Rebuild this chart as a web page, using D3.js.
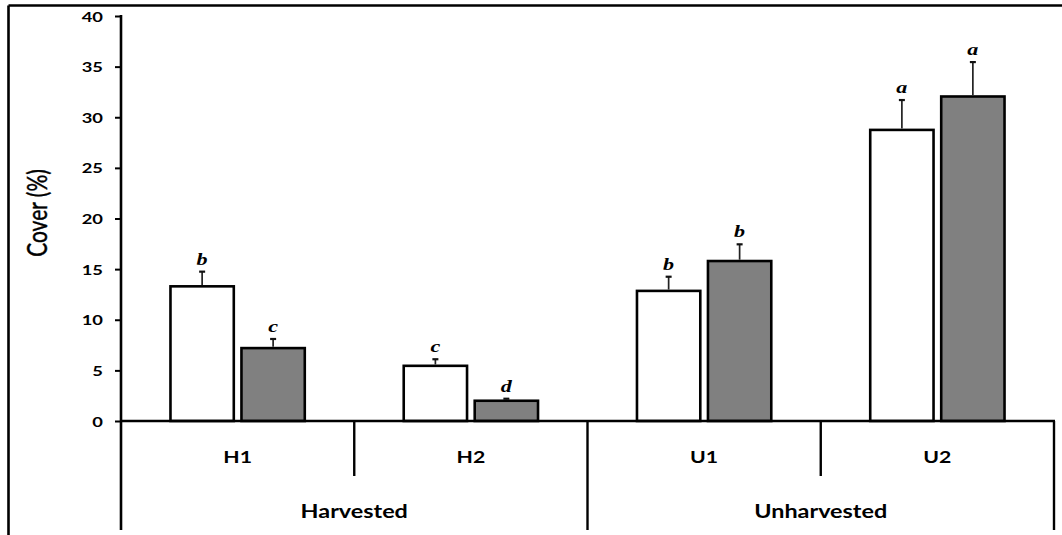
<!DOCTYPE html>
<html>
<head>
<meta charset="utf-8">
<script src="https://cdn.jsdelivr.net/npm/d3@7/dist/d3.min.js"></script>
<style>
  html, body { margin: 0; padding: 0; background: #fff; }
  svg { display: block; }
</style>
</head>
<body>
<svg id="chart" width="1062" height="535"></svg>
<script>
// Plant cover by site, two treatments per site, grouped by harvest status
const categories = ["H1", "H2", "U1", "U2"];
const groupNames = ["Harvested", "Harvested", "Unharvested", "Unharvested"];
const seriesKeys = ["first", "second"];
const seriesFill = ["#ffffff", "#808080"];

const firstValues = [13.3, 5.45, 12.85, 28.75];
const firstErrors = [1.45, 0.65, 1.4, 2.95];
const firstLetters = ["b", "c", "b", "a"];

const secondValues = [7.2, 2.0, 15.8, 32.05];
const secondErrors = [0.9, 0.2, 1.65, 3.4];
const secondLetters = ["c", "d", "b", "a"];

const yTicks = [0, 5, 10, 15, 20, 25, 30, 35, 40];
const yTitle = "Cover (%)";

const svg = d3.select("#chart");

// frame lines
const frame = svg.append("g").attr("stroke", "#000").attr("stroke-width", 2.6);
frame.append("line").attr("x1", 8.5).attr("x2", 1062).attr("y1", 5.5).attr("y2", 5.5);
frame.append("line").attr("x1", 8.5).attr("x2", 8.5).attr("y1", 5.5).attr("y2", 535);

const plotLeft = 121, plotRight = 1054, plotTop = 16, plotBase = 421;
const y = d3.scaleLinear().domain([0, 40]).range([plotBase, plotTop]);
const x = d3.scaleBand().domain(categories).range([plotLeft, plotRight]).padding(0);
const xs = d3.scaleBand().domain(seriesKeys).range([0, x.bandwidth()])
  .paddingInner(0.108).paddingOuter(0.697);

const rows = categories.map((c, i) => ({
  cat: c,
  group: groupNames[i],
  bars: [
    { key: seriesKeys[0], value: firstValues[i], err: firstErrors[i], letter: firstLetters[i], fill: seriesFill[0] },
    { key: seriesKeys[1], value: secondValues[i], err: secondErrors[i], letter: secondLetters[i], fill: seriesFill[1] }
  ]
}));

// y axis
const yAxis = d3.axisLeft(y).tickValues(yTicks).tickSize(6).tickPadding(0);
const gy = svg.append("g").attr("transform", `translate(${plotLeft},0)`).call(yAxis);
gy.select(".domain").remove();
gy.selectAll(".tick line").attr("stroke", "#000").attr("stroke-width", 2);
gy.selectAll(".tick text")
  .attr("x", 0).attr("dy", null)
  .attr("transform", "translate(-18,5) scale(1.36,1)")
  .attr("text-anchor", "end")
  .attr("font-family", "Lato, 'Open Sans', sans-serif")
  .attr("font-weight", "bold")
  .attr("font-size", 13.5)
  .attr("fill", "#000");
svg.append("line").attr("x1", plotLeft).attr("x2", plotLeft).attr("y1", y(40) - 1).attr("y2", 530)
  .attr("stroke", "#000").attr("stroke-width", 2.6);

// y title
svg.append("text")
  .attr("transform", "translate(47,213) scale(1.25,1) rotate(-90)")
  .attr("text-anchor", "middle")
  .attr("font-family", "Lato, 'Open Sans', sans-serif")
  .attr("font-size", 21)
  .attr("stroke", "#000")
  .attr("stroke-width", 0.35)
  .attr("fill", "#000")
  .text(yTitle);

// bars
const cat = svg.append("g").selectAll("g").data(rows).join("g")
  .attr("transform", d => `translate(${x(d.cat)},0)`);

cat.selectAll("rect").data(d => d.bars).join("rect")
  .attr("x", b => xs(b.key))
  .attr("width", xs.bandwidth())
  .attr("y", b => y(b.value))
  .attr("height", b => y(0) - y(b.value))
  .attr("fill", b => b.fill)
  .attr("stroke", "#000")
  .attr("stroke-width", 2.6);

// error bars
const eb = cat.selectAll("g.err").data(d => d.bars).join("g").attr("class", "err")
  .attr("transform", b => `translate(${xs(b.key) + xs.bandwidth() / 2},0)`);
eb.append("line")
  .attr("y1", b => y(b.value) - 1.3).attr("y2", b => y(b.value + b.err))
  .attr("stroke", "#222").attr("stroke-width", 1.7);
eb.append("line")
  .attr("x1", -3).attr("x2", 3)
  .attr("y1", b => y(b.value + b.err)).attr("y2", b => y(b.value + b.err))
  .attr("stroke", "#111").attr("stroke-width", 2.2);

// significance letters
eb.append("text")
  .attr("transform", b => `translate(0,${y(b.value + b.err) - 7}) scale(1.3,1)`)
  .attr("text-anchor", "middle")
  .attr("font-family", "'Liberation Serif', 'Times New Roman', serif")
  .attr("font-style", "italic")
  .attr("font-weight", "bold")
  .attr("font-size", 17)
  .attr("fill", "#000")
  .text(b => b.letter);

// x baseline and category dividers
const xl = svg.append("g").attr("stroke", "#000").attr("stroke-width", 2.4);
xl.append("line").attr("x1", plotLeft).attr("x2", plotRight + 1).attr("y1", plotBase).attr("y2", plotBase);

const xAxis = d3.axisBottom(x).tickSize(0).tickPadding(0);
const gx = svg.append("g").attr("transform", `translate(0,${plotBase})`).call(xAxis);
gx.select(".domain").remove();
gx.selectAll(".tick text")
  .attr("y", 0).attr("dy", null)
  .attr("transform", "translate(0,42.3) scale(1.25,1)")
  .attr("font-family", "Lato, 'Open Sans', sans-serif")
  .attr("font-weight", "bold")
  .attr("font-size", 17)
  .attr("fill", "#000");

// dividers: short ones between sites, long ones between groups
categories.forEach((c, i) => {
  if (i === categories.length - 1) return;
  const edge = x(c) + x.bandwidth();
  const groupBreak = groupNames[i] !== groupNames[i + 1];
  xl.append("line").attr("x1", edge).attr("x2", edge)
    .attr("y1", plotBase).attr("y2", groupBreak ? 530 : 476);
});
xl.append("line").attr("x1", plotRight).attr("x2", plotRight).attr("y1", plotBase).attr("y2", 530);

// group labels
const groups = Array.from(d3.group(rows, d => d.group), ([name, items]) => ({
  name,
  x0: x(items[0].cat),
  x1: x(items[items.length - 1].cat) + x.bandwidth()
}));
svg.append("g").selectAll("text").data(groups).join("text")
  .attr("transform", g => `translate(${(g.x0 + g.x1) / 2},517.5) scale(1.23,1)`)
  .attr("text-anchor", "middle")
  .attr("font-family", "Lato, 'Open Sans', sans-serif")
  .attr("font-weight", "bold")
  .attr("font-size", 19)
  .attr("fill", "#000")
  .text(g => g.name);
</script>
</body>
</html>
